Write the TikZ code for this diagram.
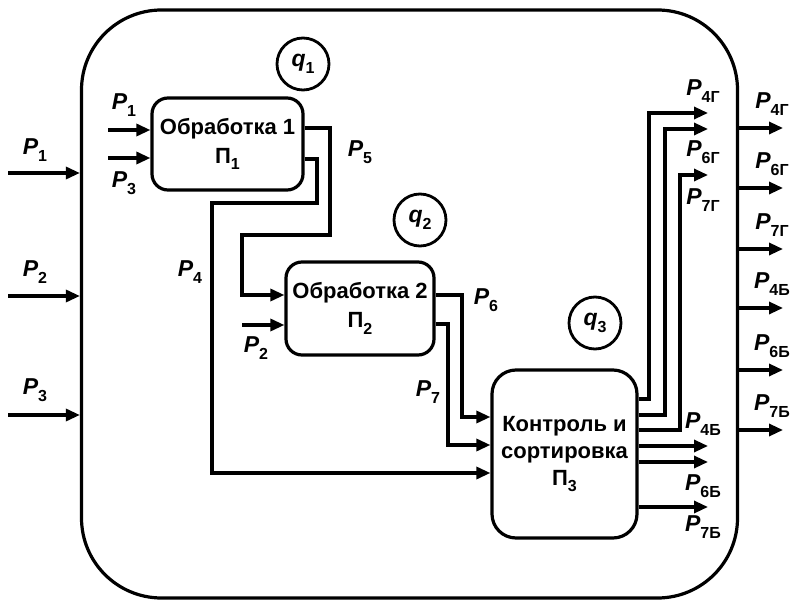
\documentclass[tikz,border=0pt]{standalone}
\usepackage{fontspec}
\setmainfont{Liberation Sans}
\usetikzlibrary{arrows.meta}
\newcommand{\sbx}[1]{\raisebox{-0.3em}{\fontsize{16}{16}\selectfont\bfseries\upshape #1}}
\newcommand{\Pl}[1]{\textit{P}\sbx{#1}}
\begin{document}
\begin{tikzpicture}[x=1pt,y=-1pt,
  line width=3.2pt,
  >={Triangle[length=14pt,width=12pt]},
  proc/.style={draw,rounded corners=16pt,align=center,font=\bfseries\fontsize{22}{29}\selectfont,inner sep=0pt},
  qc/.style={draw,circle,minimum size=52pt,inner sep=0pt,line width=2.8pt,font=\bfseries\itshape\fontsize{23}{23}\selectfont},
  lab/.style={font=\bfseries\fontsize{23}{23}\selectfont,inner sep=0pt}]
\useasboundingbox (0,0) rectangle (795,601);
% outer frame
\node[draw,rounded corners=80pt,minimum width=656pt,minimum height=588pt,inner sep=0pt,line width=3.2pt] (frame) at (409.5,304) {};
% processes
\node[proc,minimum width=151pt,minimum height=92pt] (b1) at (227.5,144) {Обработка 1\\П\sbx{1}};
\node[proc,minimum width=148pt,minimum height=93pt] (b2) at (360,308.5) {Обработка 2\\П\sbx{2}};
\node[proc,rounded corners=24pt,minimum width=145pt,minimum height=168pt,font=\bfseries\fontsize{22}{27}\selectfont] (b3) at (564.5,454) {Контроль и\\сортировка\\П\sbx{3}};
% q circles
\node[qc] (q1) at (303,64) {q\sbx{1}};
\node[qc] (q2) at (420,220) {q\sbx{2}};
\node[qc] (q3) at (595,323) {q\sbx{3}};
% left inputs
\coordinate (i1) at (8,173);
\coordinate (i2) at (8,296);
\coordinate (i3) at (8,415);
\draw[->] (i1) -- (i1 -| frame.west);
\draw[->] (i2) -- (i2 -| frame.west);
\draw[->] (i3) -- (i3 -| frame.west);
\node[lab] (li1) at (35,150) {\Pl{1}};
\node[lab] (li2) at (35,272) {\Pl{2}};
\node[lab] (li3) at (35,390) {\Pl{3}};
% box1 inputs
\coordinate (a1) at (108,130);
\coordinate (a3) at (108,158);
\draw[->] (a1) -- (a1 -| b1.west);
\draw[->] (a3) -- (a3 -| b1.west);
\node[lab] (la1) at (124,105) {\Pl{1}};
\node[lab] (la3) at (124,183) {\Pl{3}};
% P5: box1 -> box2
\draw[->] ([yshift=16pt]b1.east) -| (330,235) -| (242,295) -- (b2.west |- 0,295);
\node[lab] (l5) at (360,152) {\Pl{5}};
% P4: box1 -> box3
\draw[->] ([yshift=-15pt]b1.east) -| (317,203) -| (212,473) -- (b3.west |- 0,473);
\node[lab] (l4) at (190,272) {\Pl{4}};
% box2 input P2
\coordinate (a2) at (242,325);
\draw[->] (a2) -- (a2 -| b2.west);
\node[lab] (la2) at (256,348) {\Pl{2}};
% P6, P7
\draw[->] ([yshift=13.5pt]b2.east) -| (462,417) -- (b3.west |- 0,417);
\draw[->] ([yshift=-15.5pt]b2.east) -| (448,445) -- (b3.west |- 0,445);
\node[lab] (l6) at (486,300) {\Pl{6}};
\node[lab] (l7) at (428,392) {\Pl{7}};
% box3 outputs (Г)
\coordinate (o1) at (708,113);
\coordinate (o2) at (708,129);
\coordinate (o3) at (708,175);
\draw[->] (b3.east |- 0,399) -| (649,113) -- (o1);
\draw[->] (b3.east |- 0,415) -| (665,129) -- (o2);
\draw[->] (b3.east |- 0,430) -| (680,175) -- (o3);
\node[lab] (lo1) at (703,91) {\Pl{4Г}};
\node[lab] (lo2) at (703,152) {\Pl{6Г}};
\node[lab] (lo3) at (703,200) {\Pl{7Г}};
% box3 outputs (Б)
\coordinate (o4) at (708,446);
\coordinate (o5) at (708,462);
\coordinate (o6) at (708,507);
\draw[->] (b3.east |- o4) -- (o4);
\draw[->] (b3.east |- o5) -- (o5);
\draw[->] (b3.east |- o6) -- (o6);
\node[lab] (lo4) at (703,424) {\Pl{4Б}};
\node[lab] (lo5) at (703,486) {\Pl{6Б}};
\node[lab] (lo6) at (703,527) {\Pl{7Б}};
% frame outputs
\foreach \y/\t [count=\k] in {128/4Г,188/6Г,249/7Г,308/4Б,370/6Б,430/7Б}{
  \coordinate (e\k) at (783,\y);
  \draw[->] (frame.east |- e\k) -- (e\k);
  \node[lab] (le\k) at (772,\y-24) {\Pl{\t}};
}
\end{tikzpicture}
\end{document}
